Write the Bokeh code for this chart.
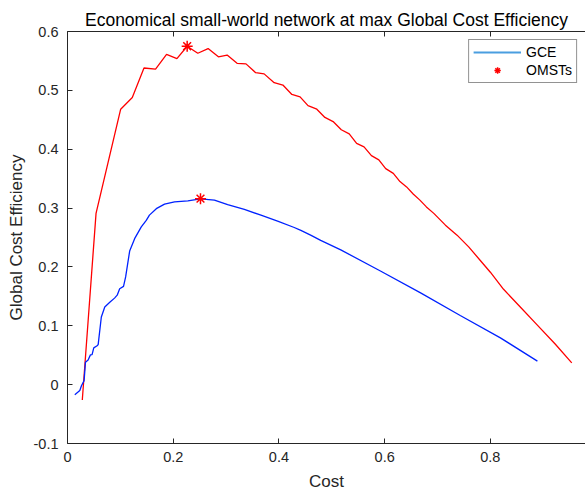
from bokeh.plotting import figure
from bokeh.models import Range1d, LinearAxis, FixedTicker, CustomJSTickFormatter, Legend, LegendItem, Title
from bokeh.embed import file_html
from bokeh.resources import INLINE

# Data
omst_cost = [0.028, 0.054, 0.1006, 0.1226, 0.1447, 0.1666, 0.1874, 0.207, 0.2264, 0.2465, 0.266,
             0.2855, 0.302, 0.3208, 0.3377, 0.356, 0.372, 0.391, 0.4075, 0.4245, 0.440, 0.455,
             0.4717, 0.487, 0.5025, 0.518, 0.533, 0.547, 0.561, 0.575, 0.589, 0.602, 0.6164,
             0.629, 0.6415, 0.654, 0.6667, 0.679, 0.693, 0.715, 0.737, 0.759, 0.781, 0.80,
             0.825, 0.8566, 0.888, 0.9226, 0.954]
omst_gce = [-0.026, 0.291, 0.468, 0.488, 0.538, 0.536, 0.561, 0.554, 0.575, 0.563, 0.571,
            0.557, 0.560, 0.546, 0.545, 0.530, 0.528, 0.513, 0.509, 0.493, 0.489, 0.474,
            0.468, 0.454, 0.447, 0.433, 0.426, 0.410, 0.404, 0.389, 0.382, 0.367, 0.359,
            0.345, 0.336, 0.324, 0.3135, 0.302, 0.291, 0.271, 0.254, 0.234, 0.211, 0.191,
            0.162, 0.132, 0.102, 0.069, 0.037]

gce_cost = [0.0138, 0.0233, 0.0264, 0.0314, 0.034, 0.039, 0.0434, 0.0465, 0.0497, 0.056, 0.058,
            0.064, 0.0705, 0.080, 0.089, 0.094, 0.0987, 0.106, 0.110, 0.1176, 0.127, 0.1396,
            0.149, 0.155, 0.168, 0.1836, 0.2025, 0.2277, 0.2516, 0.278, 0.303, 0.3346, 0.366,
            0.3975, 0.429, 0.4415, 0.460, 0.479, 0.517, 0.592, 0.668, 0.743, 0.819, 0.889]
gce_val = [-0.017, -0.010, -0.002, 0.0068, 0.038, 0.042, 0.0506, 0.051, 0.0625, 0.066, 0.068,
           0.115, 0.132, 0.140, 0.147, 0.152, 0.163, 0.167, 0.183, 0.227, 0.248, 0.268,
           0.279, 0.288, 0.299, 0.3066, 0.3106, 0.3123, 0.3157, 0.3135, 0.306, 0.2976, 0.288,
           0.278, 0.267, 0.262, 0.254, 0.245, 0.229, 0.193, 0.156, 0.1175, 0.0795, 0.040]

star_cost = [0.2264, 0.2516]
star_gce = [0.575, 0.316]

x_ticks = [0, 0.2, 0.4, 0.6, 0.8, 1.0]
y_ticks = [-0.1, 0, 0.1, 0.2, 0.3, 0.4, 0.5, 0.6]

FONT = "Liberation Sans"
TXT = "#262626"

p = figure(width=585, height=493, output_backend="svg", toolbar_location=None,
           x_range=Range1d(0, 0.98), y_range=Range1d(-0.1, 0.6),
           min_border_left=67, min_border_right=0, min_border_top=31, min_border_bottom=50,
           x_axis_label="Cost", y_axis_label="Global Cost Efficiency")
p.title = Title(text="Economical small-world network at max Global Cost Efficiency",
                align="center", text_font=FONT, text_font_size="17.5px",
                text_font_style="normal", text_color="#000000", offset=4, standoff=4)
p.outline_line_color = None
p.grid.visible = False
p.background_fill_color = "white"
p.border_fill_color = "white"

fmt = CustomJSTickFormatter(code="return Math.abs(tick) < 1e-9 ? '0' : tick.toFixed(1);")
for ax in p.xaxis + p.yaxis:
    ax.formatter = fmt
    ax.major_tick_in = 5
    ax.major_tick_out = 0
    ax.minor_tick_in = 0
    ax.minor_tick_out = 0
    ax.axis_line_color = TXT
    ax.major_tick_line_color = TXT
    ax.major_label_text_font = FONT
    ax.major_label_text_font_size = "14.5px"
    ax.major_label_text_color = TXT
    ax.axis_label_text_font = FONT
    ax.axis_label_text_font_size = "17px"
    ax.axis_label_text_font_style = "normal"
    ax.axis_label_text_color = TXT
p.xaxis.ticker = FixedTicker(ticks=x_ticks)
p.yaxis.ticker = FixedTicker(ticks=y_ticks)
p.xaxis.major_label_standoff = 8
p.xaxis.axis_label_standoff = 7
p.yaxis.major_label_standoff = 9
p.yaxis.axis_label_standoff = 5

top = LinearAxis(ticker=FixedTicker(ticks=x_ticks), major_tick_in=5, major_tick_out=0,
                 minor_tick_in=0, minor_tick_out=0, axis_line_color=TXT,
                 major_tick_line_color=TXT,
                 formatter=CustomJSTickFormatter(code="return '';"),
                 major_label_standoff=0)
p.add_layout(top, "above")

p.line(omst_cost, omst_gce, line_color="#ff0000", line_width=1.3)
p.line(gce_cost, gce_val, line_color="#0022ff", line_width=1.3)
p.scatter(star_cost, star_gce, marker="asterisk", size=11, line_color="#ff0000", line_width=1.5)

# legend proxies (placed outside the visible range)
leg_line = p.line([-5, -4], [-5, -5], line_color="#4a9ee0", line_width=2)
leg_star = p.scatter([-5], [-5], marker="asterisk", size=10, line_color="#ff0000", line_width=1.5)
legend = Legend(items=[LegendItem(label="GCE", renderers=[leg_line]),
                       LegendItem(label="OMSTs", renderers=[leg_star])],
                location="top_right", glyph_width=48, glyph_height=16,
                label_text_font=FONT, label_text_font_size="14px", label_text_color="#000000",
                border_line_color="#262626", border_line_width=1,
                background_fill_alpha=1, margin=8, padding=4, spacing=2, label_standoff=5)
p.add_layout(legend)

open("out.html", "w").write(file_html(p, INLINE))
